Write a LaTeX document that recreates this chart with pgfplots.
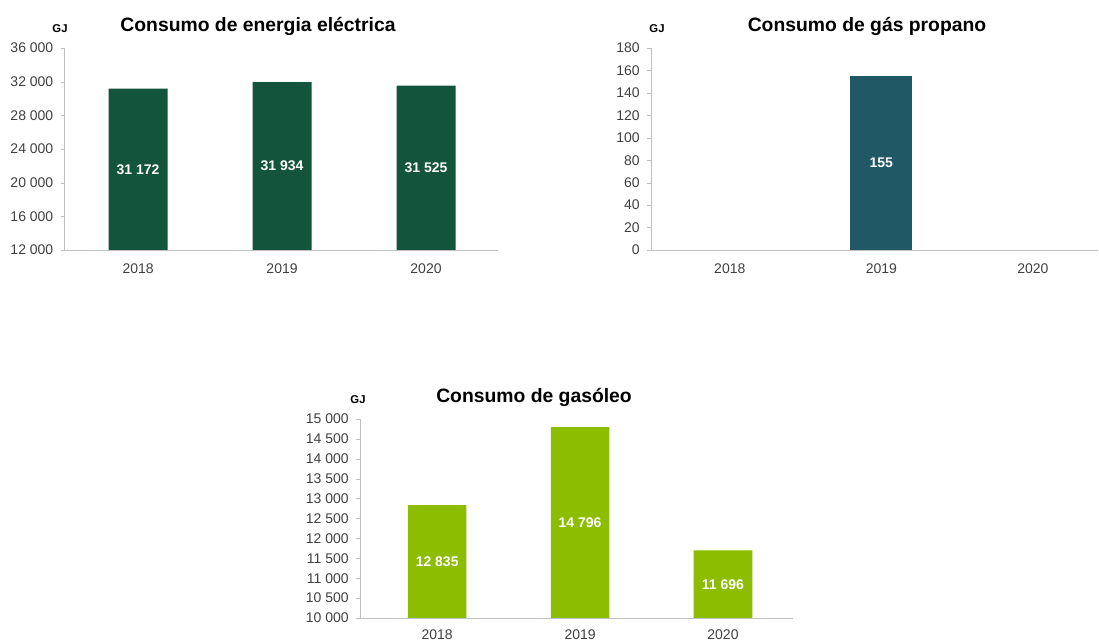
\documentclass[border=0pt]{standalone}
\usepackage{fontspec}
\setmainfont{Liberation Sans}
\usepackage{pgfplots}
\pgfplotsset{compat=1.18}

\definecolor{elec}{HTML}{12553C}
\definecolor{prop}{HTML}{215866}
\definecolor{diesel}{HTML}{8CBD00}
\definecolor{tickgray}{HTML}{404040}
\definecolor{axgray}{HTML}{BFBFBF}

\pgfplotsset{
  energy/.style={
    scale only axis,
    anchor=south west,
    axis x line*=bottom, axis y line*=left,
    axis line style={draw=axgray},
    xtick={0,1,2}, xticklabels={2018,2019,2020},
    xtick style={draw=none},
    ytick style={draw=axgray},
    tick align=outside, major tick length=3pt,
    tick label style={font=\fontsize{10.5}{12}\selectfont, text=tickgray},
    xticklabel style={yshift=-3.5pt},
    yticklabel style={xshift=-2pt},
    scaled y ticks=false,
    /pgf/number format/assume math mode=true,
    /pgf/number format/1000 sep={\ },
    bar width=0.41,
  },
  barlabel/.style={
    draw=none, mark=none,
    nodes near coords, point meta=explicit symbolic,
    every node near coord/.append style={anchor=center, text=white,
      font=\bfseries\fontsize{10.5}{12}\selectfont},
  },
}

\begin{document}
\begin{tikzpicture}

% Consumo de energia electrica
\begin{axis}[energy, at={(48.5pt,293.25pt)}, width=325pt, height=151.5pt,
    xmin=-0.51, xmax=2.5, ymin=12000, ymax=36000,
    ytick={12000,16000,...,36000}]
\addplot[ybar, fill=elec, draw=none] coordinates {(0,31172) (1,31934) (2,31525)};
\addplot[barlabel] coordinates {(0,21586) [31 172] (1,21967) [31 934] (2,21762.5) [31 525]};
\end{axis}

% Consumo de gas propano (2018 and 2020: no consumption)
\begin{axis}[energy, at={(488.25pt,293.25pt)}, width=335.25pt, height=151.5pt,
    xmin=-0.52, xmax=2.43, ymin=0, ymax=180,
    ytick={0,20,...,180}]
\addplot[ybar, fill=prop, draw=none] coordinates {(1,155)};
\addplot[barlabel] coordinates {(1,77.5) [155]};
\end{axis}

% Consumo de gasoleo
\begin{axis}[energy, at={(270pt,17.25pt)}, width=324.75pt, height=149.25pt,
    xmin=-0.54, xmax=2.49, ymin=10000, ymax=15000,
    ytick={10000,10500,...,15000},
    xticklabel style={yshift=1.5pt}]
\addplot[ybar, fill=diesel, draw=none] coordinates {(0,12835) (1,14796) (2,11696)};
\addplot[barlabel] coordinates {(0,11417.5) [12 835] (1,12398) [14 796] (2,10848) [11 696]};
\end{axis}

\node[anchor=base, font=\bfseries\fontsize{14.5}{17}\selectfont] at (193.5pt,457pt) {Consumo de energia eléctrica};
\node[anchor=base, font=\bfseries\fontsize{14.5}{17}\selectfont] at (650.25pt,457pt) {Consumo de gás propano};
\node[anchor=base, font=\bfseries\fontsize{14.5}{17}\selectfont] at (400.5pt,178.5pt) {Consumo de gasóleo};
\node[anchor=base, font=\bfseries\fontsize{8.5}{10}\selectfont] at (45pt,456pt) {GJ};
\node[anchor=base, font=\bfseries\fontsize{8.5}{10}\selectfont] at (492.75pt,456pt) {GJ};
\node[anchor=base, font=\bfseries\fontsize{8.5}{10}\selectfont] at (268.5pt,177.75pt) {GJ};

\pgfresetboundingbox
\path (0pt,0pt) rectangle (824.25pt,480.75pt);
\end{tikzpicture}
\end{document}
